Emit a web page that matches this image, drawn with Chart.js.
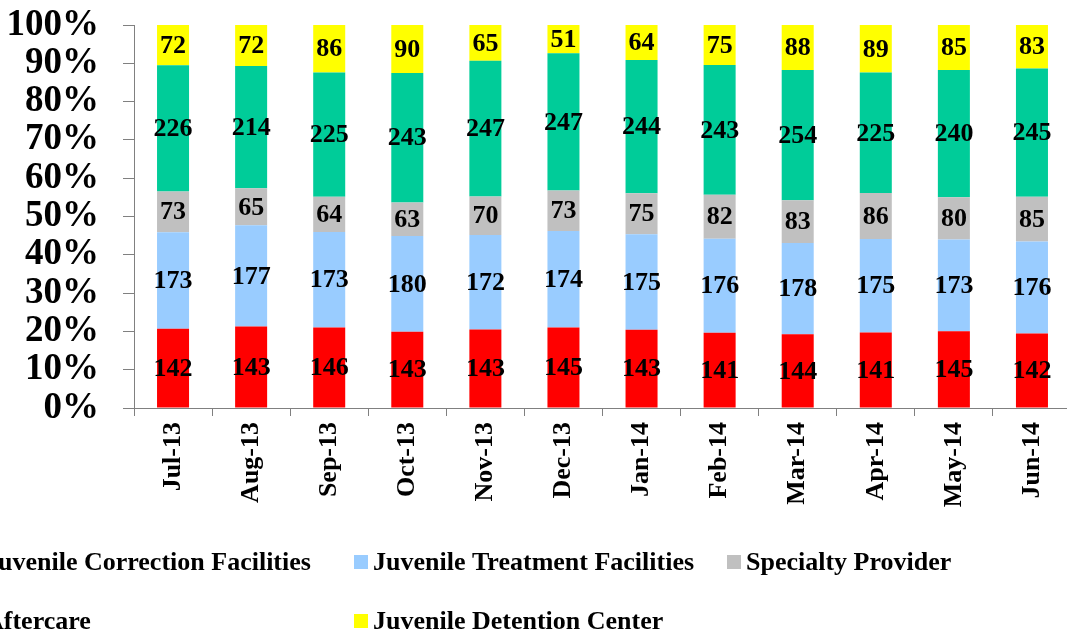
<!DOCTYPE html>
<html><head><meta charset="utf-8">
<script src="https://cdn.jsdelivr.net/npm/chart.js@4.4.1/dist/chart.umd.min.js"></script>
<style>
html,body{margin:0;padding:0;background:#fff;overflow:hidden;width:1067px;height:634px;}
#wrap{position:absolute;left:0;top:0;width:1075px;height:634px;}
</style></head><body>
<div id="wrap"><canvas id="c" width="1075" height="634"></canvas></div>
<script>
const categories = ["Jul-13","Aug-13","Sep-13","Oct-13","Nov-13","Dec-13","Jan-14","Feb-14","Mar-14","Apr-14","May-14","Jun-14"];
const correction = [142,143,146,143,143,145,143,141,144,141,145,142];
const treatment  = [173,177,173,180,172,174,175,176,178,175,173,176];
const specialty  = [73,65,64,63,70,73,75,82,83,86,80,85];
const aftercare  = [226,214,225,243,247,247,244,243,254,225,240,245];
const detention  = [72,72,86,90,65,51,64,75,88,89,85,83];
const seriesNames = ["Juvenile Correction Facilities","Juvenile Treatment Facilities","Specialty Provider","Aftercare","Juvenile Detention Center"];
const seriesColors = ["#FF0000","#99CCFF","#C0C0C0","#00CC99","#FFFF00"];
const yTicks = [0,10,20,30,40,50,60,70,80,90,100];

const raw = [correction, treatment, specialty, aftercare, detention];
const totals = categories.map((_, i) => raw.reduce((s, a) => s + a[i], 0));
const FONT = "'Liberation Serif','Times New Roman',serif";

const datasets = raw.map((arr, k) => ({
  label: seriesNames[k],
  data: arr.map((v, i) => v / totals[i] * 100),
  rawValues: arr,
  backgroundColor: seriesColors[k],
  borderWidth: 0,
  barPercentage: 0.41,
  categoryPercentage: 1.0
}));

const valueLabels = {
  id: 'valueLabels',
  afterDatasetsDraw(chart) {
    const ctx = chart.ctx;
    ctx.save();
    ctx.font = "bold 26px " + FONT;
    ctx.fillStyle = "#000";
    ctx.textAlign = "center";
    ctx.textBaseline = "middle";
    chart.data.datasets.forEach((ds, di) => {
      const meta = chart.getDatasetMeta(di);
      meta.data.forEach((el, i) => {
        const y = (el.y + el.base) / 2;
        ctx.fillText(String(ds.rawValues[i]), el.x, y + 1);
      });
    });
    ctx.restore();
  }
};

const customLegend = {
  id: 'customLegend',
  afterDraw(chart) {
    const ctx = chart.ctx;
    ctx.save();
    ctx.font = "bold 26px " + FONT;
    ctx.fillStyle = "#000";
    ctx.textBaseline = "middle";
    ctx.textAlign = "left";
    const ds = chart.data.datasets;
    const rows = [562, 621];
    const colText = [-15, 373, 746];
    const items = [[0,0,0],[1,0,1],[2,0,2],[3,1,0],[4,1,1]];
    items.forEach(([di, r, c]) => {
      const tx = colText[c];
      const y = rows[r];
      ctx.fillStyle = ds[di].backgroundColor;
      ctx.fillRect(tx - 19, y - 7, 14, 14);
      ctx.fillStyle = "#000";
      ctx.fillText(ds[di].label, tx, y + 1);
    });
    ctx.restore();
  }
};

new Chart(document.getElementById('c'), {
  type: 'bar',
  data: { labels: categories, datasets },
  options: {
    responsive: false,
    animation: false,
    layout: { padding: { top: 25, right: 4, left: 0, bottom: 0 } },
    plugins: { legend: { display: false }, tooltip: { enabled: false } },
    scales: {
      x: {
        stacked: true,
        afterFit(s) { s.height = 226; },
        border: { color: '#808080', width: 1 },
        grid: { offset: true, drawOnChartArea: false, tickLength: 8, color: '#808080' },
        ticks: { minRotation: 90, maxRotation: 90, padding: 6, color: '#000', font: { family: FONT, size: 26, weight: 'bold' } }
      },
      y: {
        stacked: true,
        min: 0, max: 100,
        afterFit(s) { s.width = 134; s.paddingTop = 0; s.paddingBottom = 0; },
        afterBuildTicks(s) { s.ticks = yTicks.map(v => ({ value: v })); },
        border: { color: '#808080', width: 1 },
        grid: { drawOnChartArea: false, tickLength: 11, color: '#808080' },
        ticks: { autoSkip: false, padding: 24, color: '#000', font: { family: FONT, size: 37, weight: 'bold' }, callback: v => v + '%' }
      }
    }
  },
  plugins: [valueLabels, customLegend]
});
</script>
</body></html>
